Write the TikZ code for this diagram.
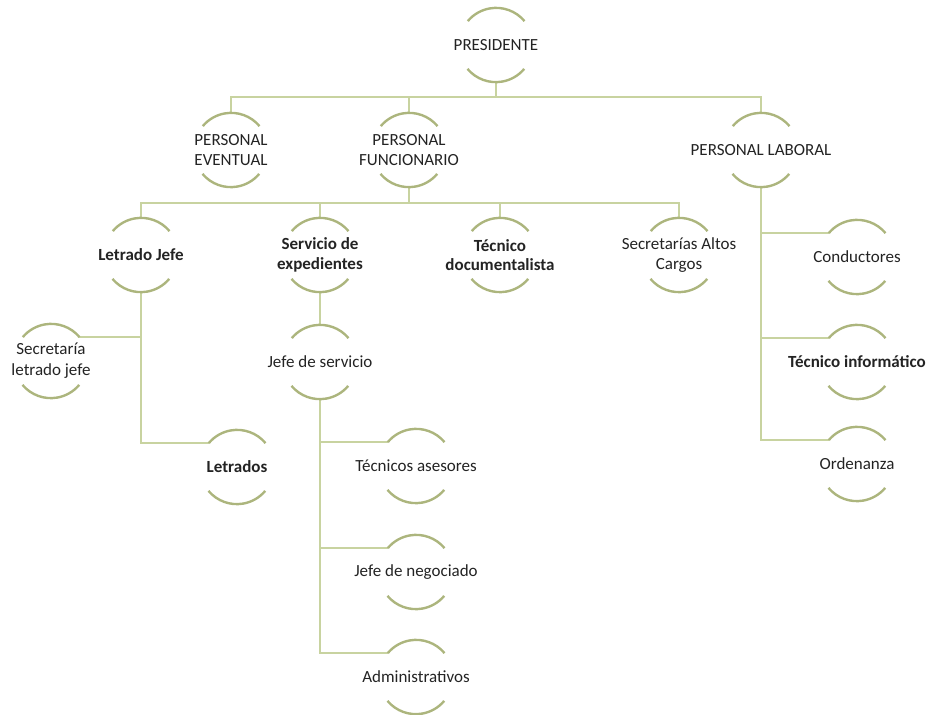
\documentclass[tikz,border=0pt]{standalone}
\usepackage{fontspec}
\setmainfont{Carlito}
\definecolor{lnc}{RGB}{200,211,160}
\definecolor{arcc}{RGB}{172,181,125}
\definecolor{txt}{RGB}{35,35,35}
\tikzset{
  unit/.style={circle, minimum size=74pt, inner sep=0pt, draw=none},
  lbl/.style={font=\fontsize{17}{19.5}\selectfont, text=txt, align=center, inner sep=0pt},
  blbl/.style={lbl, font=\fontsize{17}{19.5}\selectfont\bfseries},
  ln/.style={draw=lnc, line width=2.2pt},
  arcst/.style={draw=arcc, line width=2.4pt},
}
\newcommand\twoarcs[1]{%
  \draw[arcst] (#1.40) arc[start angle=40,end angle=140,radius=37pt];
  \draw[arcst] (#1.220) arc[start angle=220,end angle=320,radius=37pt];}
\begin{document}
\begin{tikzpicture}[x=1pt,y=1pt]
\useasboundingbox (0,0) rectangle (932,-715);
% nodes
\node[unit, label={[lbl]center:PRESIDENTE}] (pres) at (496,-45) {};
\node[unit, label={[lbl]center:PERSONAL\\EVENTUAL}] (eve) at (231,-150) {};
\node[unit, label={[lbl]center:PERSONAL\\FUNCIONARIO}] (fun) at (409,-150) {};
\node[unit, label={[lbl]center:PERSONAL LABORAL}] (lab) at (761,-150) {};
\node[unit, label={[blbl]center:Letrado Jefe}] (lj) at (141,-255) {};
\node[unit, label={[blbl]center:Servicio de\\expedientes}] (se) at (320,-255) {};
\node[unit, label={[blbl]center:Técnico\\documentalista}] (td) at (500,-255) {};
\node[unit, label={[lbl]center:Secretarías Altos\\Cargos}] (sac) at (679,-255) {};
\node[unit, label={[lbl,font=\fontsize{17}{21}\selectfont]center:Secretaría\\letrado jefe}] (sec) at (51,-361) {};
\node[unit, label={[blbl]center:Letrados}] (letr) at (237,-467) {};
\node[unit, label={[lbl]center:Jefe de servicio}] (js) at (320,-362) {};
\node[unit, label={[lbl]center:Técnicos asesores}] (tec) at (416,-466) {};
\node[unit, label={[lbl]center:Jefe de negociado}] (neg) at (416,-572) {};
\node[unit, label={[lbl]center:Administrativos}] (adm) at (416,-677) {};
\node[unit, label={[lbl]center:Conductores}] (cond) at (857,-257) {};
\node[unit, label={[blbl]center:Técnico informático}] (ti) at (857,-362) {};
\node[unit, label={[lbl]center:Ordenanza}] (ord) at (857,-464) {};
\coordinate (bar1) at (0,-97);
\coordinate (bar2) at (0,-203);
% connectors
\draw[ln] (pres.south) -- (pres.south |- bar1);
\draw[ln] (eve.north) -- (eve.north |- bar1) -- (lab.north |- bar1) -- (lab.north);
\draw[ln] (fun.north) -- (fun.north |- bar1);
\draw[ln] (fun.south) -- (fun.south |- bar2);
\draw[ln] (lj.north) -- (lj.north |- bar2) -- (sac.north |- bar2) -- (sac.north);
\draw[ln] (se.north) -- (se.north |- bar2);
\draw[ln] (td.north) -- (td.north |- bar2);
\draw[ln] (lj.south) |- (letr.140);
\draw[ln] (sec.40) -- (sec.40 -| lj.south);
\draw[ln] (se.south) -- (js.north);
\draw[ln] (js.south) |- (adm.140);
\draw[ln] (js.south |- tec.140) -- (tec.140);
\draw[ln] (js.south |- neg.140) -- (neg.140);
\draw[ln] (lab.south) |- (ord.140);
\draw[ln] (lab.south |- cond.140) -- (cond.140);
\draw[ln] (lab.south |- ti.140) -- (ti.140);
% arcs
\foreach \n in {pres,eve,fun,lab,lj,se,td,sac,sec,letr,js,tec,neg,adm,cond,ti,ord}{\twoarcs{\n}}
\end{tikzpicture}
\end{document}
